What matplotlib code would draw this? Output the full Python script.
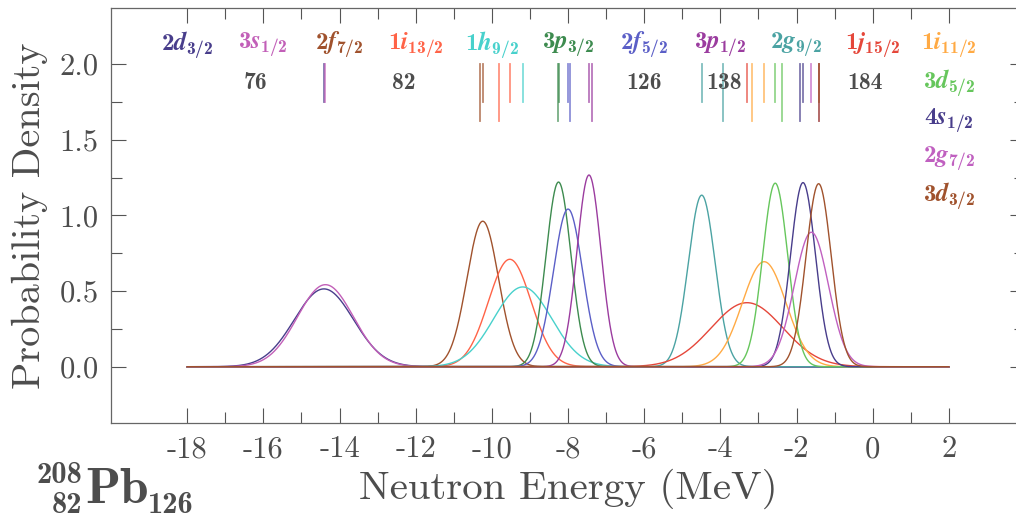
import numpy as np
import matplotlib
matplotlib.use('Agg')
import matplotlib.pyplot as plt

plt.rcParams['font.family'] = 'serif'
plt.rcParams['font.serif'] = ['cmr10']
plt.rcParams['mathtext.fontset'] = 'custom'
plt.rcParams['mathtext.rm'] = 'cmr10'
plt.rcParams['mathtext.bf'] = 'cmb10'
plt.rcParams['mathtext.bfit'] = 'STIXGeneral:italic:bold'
plt.rcParams['axes.unicode_minus'] = False
plt.rcParams['axes.formatter.use_mathtext'] = False

# neutron single particle states in 208Pb
n_vals = [2, 3, 2, 1, 1, 3, 2, 3, 2, 1, 1, 3, 4, 2, 3]
l_vals = ['d', 's', 'f', 'i', 'h', 'p', 'f', 'p', 'g', 'j', 'i', 'd', 's', 'g', 'd']
j_vals = ['3/2', '1/2', '7/2', '13/2', '9/2', '3/2', '5/2', '1/2', '9/2',
          '15/2', '11/2', '5/2', '1/2', '7/2', '3/2']
colors = ['#483d8b', '#c25fb8', '#a0522d', '#ff6347', '#48d1cc', '#3d8b4f',
          '#5b5fc7', '#9b3c9f', '#4ba3a3', '#e5473a', '#ffaa44', '#66c65c',
          '#483d8b', '#c060c0', '#a0522d']

# calculated energies (MeV) and widths of the density peaks
E_calc = [-14.41, -14.37, -10.24, -9.53, -9.19, -8.25, -8.00, -7.45,
          -4.49, -3.30, -2.85, -2.56, -1.83, -1.61, -1.42]
sigma = [0.776, 0.736, 0.415, 0.562, 0.757, 0.327, 0.383, 0.315,
         0.352, 0.943, 0.575, 0.329, 0.328, 0.449, 0.330]
# experimental energies (MeV), None where not shown
E_exp = [None, None, -10.30, -9.81, None, -8.26, -7.95, -7.37,
         -3.94, None, -3.16, -2.37, -1.90, -1.42, -1.42]

magic = ['76', '82', '126', '138', '184']
magic_E = [-16.2, -12.3, -6.0, -3.9, -0.2]

E = np.linspace(-18, 2, 2001)

fig = plt.figure(figsize=(10.16, 5.18), dpi=100)
ax = fig.add_axes([0.1093, 0.1828, 0.8996, 0.8023])

for i in range(len(E_calc)):
    dens = np.exp(-0.5*((E - E_calc[i])/sigma[i])**2)/(sigma[i]*np.sqrt(2*np.pi))
    ax.plot(E, dens, color=colors[i], lw=1.0)

    # short line: calculated level, long line: experiment
    ax.plot([E_calc[i], E_calc[i]], [1.75, 2.0], color=colors[i], lw=1.3, alpha=0.7)
    if E_exp[i] is not None:
        ax.plot([E_exp[i], E_exp[i]], [1.625, 2.0], color=colors[i], lw=1.3, alpha=0.7)

    lab = r'$\mathbf{%d}\mathbfit{%s}_{\mathbf{%s}}$' % (n_vals[i], l_vals[i], j_vals[i])
    if i < 11:
        lx, ly = -18 + 2*i, 2.13
    else:
        lx, ly = 2, 1.88 - 0.25*(i - 11)
    ax.text(lx, ly, lab, color=colors[i], fontsize=18, ha='center', va='center')

for k in range(len(magic)):
    ax.text(magic_E[k], 1.875, magic[k], color='#4d4d4d', family='cmb10',
            fontsize=17, ha='center', va='center')

ax.set_xlim(-20, 4)
ax.set_ylim(-0.374, 2.372)
ax.set_xticks(np.arange(-18, 3, 2))
ax.set_xticks(np.arange(-17, 2, 2), minor=True)
ax.set_yticks([0.0, 0.5, 1.0, 1.5, 2.0])
ax.set_yticks([0.25, 0.75, 1.25, 1.75], minor=True)
ax.set_yticklabels(['0.0', '0.5', '1.0', '1.5', '2.0'])
ax.tick_params(which='both', direction='in', top=True, right=True,
               color='#555555', width=0.8, labelsize=22, labelcolor='#4d4d4d')
ax.tick_params(which='major', length=11, pad=9)
ax.tick_params(which='minor', length=8)
for sp in ax.spines.values():
    sp.set_color('#666666')
    sp.set_linewidth(0.9)

ax.set_xlabel('Neutron Energy (MeV)', fontsize=29.5, color='#4d4d4d', labelpad=4)
ax.set_ylabel('Probability Density', fontsize=29, color='#4d4d4d', labelpad=8)

# nuclide label 208/82 Pb 126
W, H = 1016.0, 518.0
fig.text(85/W, 1 - 502.7/H, 'Pb', family='cmb10', fontsize=37, color='#4d4d4d',
         ha='left', va='baseline')
fig.text(82/W, 1 - 483.3/H, '208', family='cmb10', fontsize=22, color='#4d4d4d',
         ha='right', va='baseline')
fig.text(82/W, 1 - 512.7/H, '82', family='cmb10', fontsize=22, color='#4d4d4d',
         ha='right', va='baseline')
fig.text(148/W, 1 - 512.7/H, '126', family='cmb10', fontsize=22, color='#4d4d4d',
         ha='left', va='baseline')

fig.savefig('out.png', dpi=100)
